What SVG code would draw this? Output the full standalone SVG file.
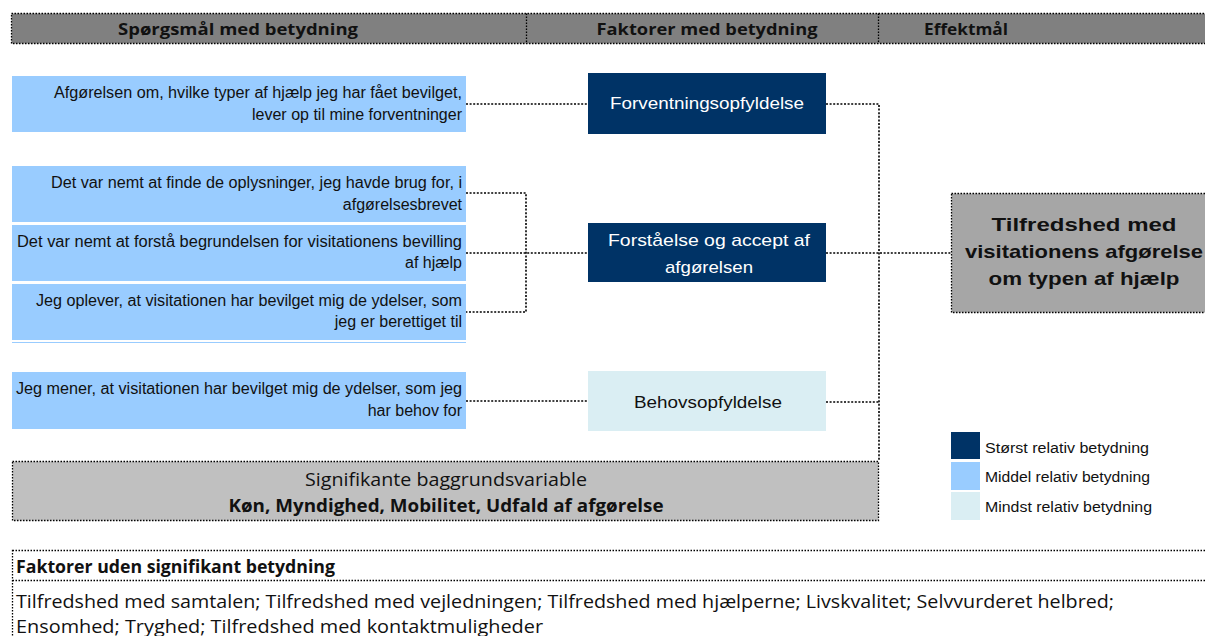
<svg xmlns="http://www.w3.org/2000/svg" width="1205" height="636" viewBox="0 0 1205 636">
<style>
.q{fill:#99CCFF}
.qt{font-family:"Liberation Sans",Arial,sans-serif;font-size:16px;fill:#111;text-anchor:end}
.dk{fill:#003366}
.lt{fill:#DAEEF3}
.ft{font-family:"Liberation Sans",Arial,sans-serif;font-size:17px;text-anchor:middle}
.cal{font-family:"Open Sans","Noto Sans",sans-serif;fill:#111}
.b{font-weight:bold}
.dot{fill:none;stroke:#000;stroke-width:1.3;stroke-dasharray:1.5 1.5}
.con{fill:none;stroke:#000;stroke-width:1.6;stroke-dasharray:2 1.6}
.lg{font-family:"Liberation Sans",Arial,sans-serif;font-size:14px;fill:#111}
</style>
<rect width="1205" height="636" fill="#fff"/>

<g id="header">
<rect x="11.5" y="13.5" width="1194" height="30" fill="#808080"/>
<rect x="11.5" y="13.5" width="1200" height="30" class="dot"/>
<line x1="526.5" y1="13.5" x2="526.5" y2="43.5" class="dot"/>
<line x1="878.5" y1="13.5" x2="878.5" y2="43.5" class="dot"/>
<text x="238" y="35" class="cal b" font-size="16.5" text-anchor="middle" textLength="240" lengthAdjust="spacingAndGlyphs">Spørgsmål med betydning</text>
<text x="707" y="35" class="cal b" font-size="16.5" text-anchor="middle" textLength="221" lengthAdjust="spacingAndGlyphs">Faktorer med betydning</text>
<text x="924" y="35" class="cal b" font-size="16.5" textLength="84" lengthAdjust="spacingAndGlyphs">Effektmål</text>
</g>

<g id="connectors">
<polyline class="con" points="466,104 588,104"/>
<polyline class="con" points="466,193 526,193 526,312 466,312"/>
<polyline class="con" points="466,253 588,253"/>
<polyline class="con" points="466,401 588,401"/>
<polyline class="con" points="826,104 879,104 879,461"/>
<polyline class="con" points="826,253 951,253"/>
<polyline class="con" points="826,402 879,402"/>
</g>

<g id="q1">
<rect x="12" y="76" width="454" height="56" class="q"/>
<text x="462" y="98" class="qt" textLength="408" lengthAdjust="spacingAndGlyphs">Afgørelsen om, hvilke typer af hjælp jeg har fået bevilget,</text>
<text x="462" y="120" class="qt" textLength="210" lengthAdjust="spacingAndGlyphs">lever op til mine forventninger</text>
</g>
<g id="q2">
<rect x="12" y="166" width="454" height="56" class="q"/>
<text x="462" y="188" class="qt" textLength="411" lengthAdjust="spacingAndGlyphs">Det var nemt at finde de oplysninger, jeg havde brug for, i</text>
<text x="462" y="210" class="qt">afgørelsesbrevet</text>
</g>
<g id="q3">
<rect x="12" y="225" width="454" height="56" class="q"/>
<text x="462" y="247" class="qt" textLength="445" lengthAdjust="spacingAndGlyphs">Det var nemt at forstå begrundelsen for visitationens bevilling</text>
<text x="462" y="268" class="qt">af hjælp</text>
</g>
<g id="q4">
<rect x="12" y="284" width="454" height="56" class="q"/>
<rect x="12" y="342" width="454" height="1" class="q"/>
<text x="462" y="306" class="qt" textLength="426" lengthAdjust="spacingAndGlyphs">Jeg oplever, at visitationen har bevilget mig de ydelser, som</text>
<text x="462" y="327" class="qt">jeg er berettiget til</text>
</g>
<g id="q5">
<rect x="12" y="372" width="454" height="57" class="q"/>
<text x="462" y="394" class="qt" textLength="446" lengthAdjust="spacingAndGlyphs">Jeg mener, at visitationen har bevilget mig de ydelser,  som jeg</text>
<text x="462" y="416" class="qt">har behov for</text>
</g>

<g id="f1">
<rect x="588" y="73" width="238" height="61" class="dk"/>
<text x="707" y="109" class="ft" fill="#fff" textLength="194" lengthAdjust="spacingAndGlyphs">Forventningsopfyldelse</text>
</g>
<g id="f2">
<rect x="588" y="223" width="238" height="59" class="dk"/>
<text x="709" y="246" class="ft" fill="#fff" textLength="202" lengthAdjust="spacingAndGlyphs">Forståelse og accept af</text>
<text x="709" y="273" class="ft" fill="#fff" textLength="88" lengthAdjust="spacingAndGlyphs">afgørelsen</text>
</g>
<g id="f3">
<rect x="588" y="371" width="238" height="60" class="lt"/>
<text x="708" y="408" class="ft" fill="#111" textLength="148" lengthAdjust="spacingAndGlyphs">Behovsopfyldelse</text>
</g>

<g id="effekt">
<rect x="951.5" y="193.5" width="260" height="119" fill="#A6A6A6"/>
<rect x="951.5" y="193.5" width="260" height="119" class="dot"/>
<g font-family="Liberation Sans,Arial,sans-serif" font-size="19" font-weight="bold" fill="#111" text-anchor="middle">
<text x="1084" y="231" textLength="185" lengthAdjust="spacingAndGlyphs">Tilfredshed med</text>
<text x="1084" y="258" textLength="238" lengthAdjust="spacingAndGlyphs">visitationens afgørelse</text>
<text x="1084" y="285" textLength="191" lengthAdjust="spacingAndGlyphs">om  typen af hjælp</text>
</g>
</g>

<g id="baggrund">
<rect x="12.5" y="461.5" width="866" height="59" fill="#C0C0C0"/>
<rect x="12.5" y="461.5" width="866" height="59" class="dot"/>
<text x="446" y="486" class="cal" font-size="17.5" text-anchor="middle" textLength="282" lengthAdjust="spacingAndGlyphs">Signifikante baggrundsvariable</text>
<text x="446" y="512" class="cal b" font-size="17.5" text-anchor="middle" textLength="435" lengthAdjust="spacingAndGlyphs">Køn, Myndighed, Mobilitet, Udfald af afgørelse</text>
</g>

<g id="legend">
<rect x="951" y="432" width="29" height="27" class="dk"/>
<rect x="951" y="462" width="29" height="28" class="q"/>
<rect x="951" y="492" width="29" height="28" class="lt"/>
<text x="985" y="453" class="lg" textLength="164" lengthAdjust="spacingAndGlyphs">Størst relativ betydning</text>
<text x="985" y="482" class="lg" textLength="165" lengthAdjust="spacingAndGlyphs">Middel relativ betydning</text>
<text x="985" y="512" class="lg" textLength="167" lengthAdjust="spacingAndGlyphs">Mindst relativ betydning</text>
</g>

<g id="uden">
<rect x="12.5" y="550.5" width="1200" height="95" class="dot"/>
<line x1="12.5" y1="580.5" x2="1205" y2="580.5" class="dot"/>
<text x="16" y="573" class="cal b" font-size="17.5" textLength="319" lengthAdjust="spacingAndGlyphs">Faktorer uden signifikant betydning</text>
<text x="16" y="608" class="cal" font-size="17.5" textLength="1098" lengthAdjust="spacingAndGlyphs">Tilfredshed med samtalen; Tilfredshed med vejledningen; Tilfredshed med hjælperne; Livskvalitet; Selvvurderet helbred;</text>
<text x="16" y="633" class="cal" font-size="17.5" textLength="527" lengthAdjust="spacingAndGlyphs">Ensomhed; Tryghed; Tilfredshed med kontaktmuligheder</text>
</g>
</svg>
